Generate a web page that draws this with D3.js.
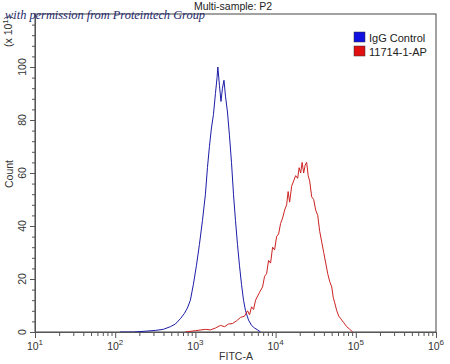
<!DOCTYPE html>
<html>
<head>
<meta charset="utf-8">
<script src="https://cdn.jsdelivr.net/npm/d3@7"></script>
<style>
body { margin: 0; background: #fff; }
svg { display: block; font-family: "Liberation Sans", Arial, sans-serif; }
</style>
</head>
<body>
<svg id="chart" width="450" height="364"></svg>
<script>
// Histogram data (FITC-A value, count x10)
var iggFitc = [115, 168, 237, 316, 398, 487, 562, 649, 729, 794, 866, 944, 1029, 1122, 1224, 1334,
  1413, 1496, 1585, 1679, 1778, 1862, 1905, 1995, 2084, 2175, 2271, 2371, 2512, 2661, 2818,
  2985, 3162, 3350, 3548, 3758, 3981, 4217, 4597, 5012, 5464, 5957, 6494];
var iggCount = [0, 0, 0.3, 0.6, 1, 2, 3, 5, 7, 9, 12, 18, 25, 33, 42, 52,
  62, 70, 77, 82, 90, 96, 100, 93, 87, 92, 95, 89, 83, 74, 64,
  52, 42, 33, 25, 18, 12, 8, 4.5, 2.5, 1.5, 0.8, 0];

var apFitc = [750, 1000, 1334, 1540, 1778, 2054, 2304, 2582, 2901, 3254, 3652, 4097, 4467, 4732,
  5012, 5309, 5623, 6310, 6879, 7286, 7718, 8175, 8660, 9173, 9716, 10292, 10902, 11548,
  12232, 12957, 13725, 14330, 14962, 15849, 16788, 17783, 18836, 19670, 20535, 21430,
  22387, 23380, 24413, 25470, 26607, 28184, 29854, 31623, 33497, 35481, 37584, 39811,
  42170, 44668, 47315, 50119, 52360, 54640, 57876, 61306, 64938, 70795, 77179, 84140, 91728];
var apCount = [0, 0.5, 1, 0.8, 1.5, 2.5, 2, 3, 3.2, 4.2, 5.5, 6, 8, 6.5,
  9.5, 8.5, 12, 15, 17, 21, 22, 27, 26, 32, 31, 36, 37, 41,
  43, 46, 48, 53, 49, 55, 57, 59, 58, 62, 60, 64,
  60, 63, 64, 59, 57, 51, 50, 46, 44, 38, 34, 30,
  26, 22, 19, 17, 13, 11, 8, 6, 5, 3.5, 2, 1, 0];

var decades = [1e1, 1e2, 1e3, 1e4, 1e5, 1e6];
var decadeExp = ["1", "2", "3", "4", "5", "6"];
var countTicks = [0, 20, 40, 60, 80, 100];

var series = [
  { name: "IgG Control", color: "#1c1ca8", swatch: "#1010e0", x: iggFitc, y: iggCount },
  { name: "11714-1-AP", color: "#cc2222", swatch: "#e01010", x: apFitc, y: apCount }
];

var svg = d3.select("#chart");
var plotLeft = 35, plotRight = 436, plotTop = 14, plotBottom = 332;

var x = d3.scaleLog().domain([1e1, 1e6]).range([plotLeft, plotRight]);
var y = d3.scaleLinear().domain([0, 120]).range([plotBottom, plotTop]);

// minor ticks
var xMinor = [];
for (var d = 1; d < 6; d++) {
  for (var k = 2; k <= 9; k++) xMinor.push(k * Math.pow(10, d));
}
var yMinor = d3.range(0, 121, 4).filter(function (v) { return v % 20 !== 0; });

var axisColor = "#555";

// frame
svg.append("rect")
  .attr("x", plotLeft).attr("y", plotTop)
  .attr("width", plotRight - plotLeft).attr("height", plotBottom - plotTop)
  .attr("fill", "none").attr("stroke", "#444").attr("stroke-width", 1);

// x axis
var gx = svg.append("g").attr("transform", "translate(0," + plotBottom + ")");
gx.call(d3.axisBottom(x).tickValues(xMinor).tickFormat("").tickSize(4).tickSizeOuter(0));
gx.append("g").call(d3.axisBottom(x).tickValues(decades).tickFormat("").tickSize(6).tickSizeOuter(0));
gx.selectAll("path").attr("stroke", axisColor);
gx.selectAll("line").attr("stroke", axisColor);

var xl = svg.append("g").selectAll("text").data(decades).enter().append("text")
  .attr("x", function (d) { return x(d); })
  .attr("y", 350)
  .attr("text-anchor", "middle")
  .attr("font-size", 10.5)
  .attr("fill", "#333");
xl.append("tspan").text("10");
xl.append("tspan").attr("dy", -5).attr("font-size", 8)
  .text(function (d, i) { return decadeExp[i]; });

// y axis
var gy = svg.append("g").attr("transform", "translate(" + plotLeft + ",0)");
gy.call(d3.axisLeft(y).tickValues(yMinor).tickFormat("").tickSize(3).tickSizeOuter(0));
gy.append("g").call(d3.axisLeft(y).tickValues(countTicks).tickFormat("").tickSize(5).tickSizeOuter(0));
gy.selectAll("path").attr("stroke", axisColor);
gy.selectAll("line").attr("stroke", axisColor);

svg.append("g").selectAll("text").data(countTicks).enter().append("text")
  .attr("transform", function (d) { return "translate(26," + y(d) + ") rotate(-90)"; })
  .attr("text-anchor", "middle")
  .attr("font-size", 10.5)
  .attr("fill", "#333")
  .text(function (d) { return d; });

// multiplier label
var mult = svg.append("text")
  .attr("transform", "translate(12,47) rotate(-90)")
  .attr("font-size", 10.5)
  .attr("fill", "#333");
mult.append("tspan").text("(x 10");
mult.append("tspan").attr("dy", -4).attr("font-size", 8).text("1");
mult.append("tspan").attr("dy", 4).text(")");

// axis titles
svg.append("text")
  .attr("x", 236).attr("y", 360)
  .attr("text-anchor", "middle")
  .attr("font-size", 10.5).attr("fill", "#333")
  .text("FITC-A");

svg.append("text")
  .attr("transform", "translate(13,174) rotate(-90)")
  .attr("text-anchor", "middle")
  .attr("font-size", 10.5).attr("fill", "#333")
  .text("Count");

svg.append("text")
  .attr("x", 233).attr("y", 10)
  .attr("text-anchor", "middle")
  .attr("font-size", 10.5).attr("fill", "#222")
  .text("Multi-sample: P2");

// curves
svg.append("clipPath").attr("id", "plotclip")
  .append("rect").attr("x", plotLeft).attr("y", plotTop)
  .attr("width", plotRight - plotLeft).attr("height", plotBottom - plotTop);

var line = d3.line()
  .x(function (d) { return x(d[0]); })
  .y(function (d) { return y(d[1]); });

svg.append("g").attr("clip-path", "url(#plotclip)")
  .selectAll("path.curve").data(series).enter().append("path")
  .attr("class", "curve")
  .attr("fill", "none")
  .attr("stroke", function (d) { return d.color; })
  .attr("stroke-width", 1)
  .attr("d", function (s) { return line(d3.zip(s.x, s.y)); });

// legend
var lg = svg.append("g").selectAll("g").data(series).enter().append("g")
  .attr("transform", function (d, i) { return "translate(354," + (32 + i * 14) + ")"; });
lg.append("rect")
  .attr("width", 11).attr("height", 10)
  .attr("fill", function (d) { return d.swatch; })
  .attr("stroke", "#333").attr("stroke-width", 0.5);
lg.append("text")
  .attr("x", 15).attr("y", 10)
  .attr("font-size", 11).attr("fill", "#222")
  .text(function (d) { return d.name; });

// watermark
svg.append("text")
  .attr("x", 5).attr("y", 19)
  .attr("font-family", "'Liberation Serif', 'DejaVu Serif', serif")
  .attr("font-style", "italic")
  .attr("font-size", 12.5)
  .attr("fill", "#1e2a6e")
  .attr("textLength", 200)
  .attr("lengthAdjust", "spacingAndGlyphs")
  .text("with permission from Proteintech Group");
</script>
</body>
</html>
